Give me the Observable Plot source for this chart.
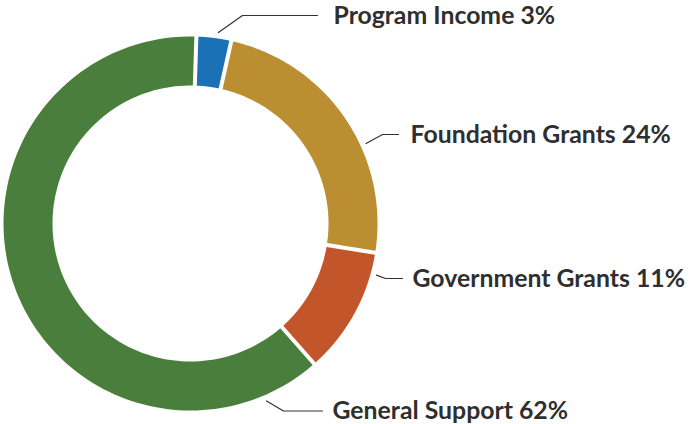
<!DOCTYPE html>
<html>
<head>
<meta charset="utf-8">
<script src="https://cdn.jsdelivr.net/npm/d3@7"></script>
<script src="https://cdn.jsdelivr.net/npm/@observablehq/plot@0.6"></script>
<style>
  html, body { margin: 0; padding: 0; background: #fff; }
  #chart { width: 690px; height: 424px; }
</style>
</head>
<body>
<div id="chart"></div>
<script>
// ---- Data ----
const categories = ["Program Income", "Foundation Grants", "Government Grants", "General Support"];
const shares = [3, 24, 11, 62];
const colors = ["#1a71b6", "#bb8f31", "#c2562a", "#4a7e3c"];

// ---- Layout (chart space: ring centre at 0,0, y downwards) ----
const outerR = 187, innerR = 138, padPx = 2;
const startDeg = 1.8;
// leader lines: anchor angle on the ring, elbow, end of the horizontal part, gap to text
const leaderLayout = [
  {angle: 8.3,   elbow: [52, -208],   endX: 127, gap: 16},
  {angle: 65.5,  elbow: [192, -89],   endX: 208, gap: 12},
  {angle: 105.5, elbow: [195, 55],    endX: 212, gap: 10},
  {angle: 156.8, elbow: [93, 187.5],  endX: 132, gap: 10}
];
const leaderR = 193;

// ---- Geometry from the data ----
const rad = Math.PI / 180;
const pie = d3.pie().sort(null).startAngle(startDeg * rad).endAngle(startDeg * rad + 2 * Math.PI);
const arcs = pie(shares);
const ringPts = [];
arcs.forEach((a, i) => {
  const oPad = Math.asin(padPx / outerR), iPad = Math.asin(padPx / innerR);
  const n = 120;
  const o0 = a.startAngle + oPad, o1 = a.endAngle - oPad;
  const i0 = a.startAngle + iPad, i1 = a.endAngle - iPad;
  for (let k = 0; k <= n; k++) {
    const t = o0 + (o1 - o0) * k / n;
    ringPts.push({category: categories[i], x: outerR * Math.sin(t), y: -outerR * Math.cos(t)});
  }
  for (let k = n; k >= 0; k--) {
    const t = i0 + (i1 - i0) * k / n;
    ringPts.push({category: categories[i], x: innerR * Math.sin(t), y: -innerR * Math.cos(t)});
  }
});

const leaderPts = [];
const labels = [];
leaderLayout.forEach((L, i) => {
  const t = L.angle * rad;
  leaderPts.push({category: categories[i], x: leaderR * Math.sin(t), y: -leaderR * Math.cos(t)});
  leaderPts.push({category: categories[i], x: L.elbow[0], y: L.elbow[1]});
  leaderPts.push({category: categories[i], x: L.endX, y: L.elbow[1]});
  labels.push({text: `${categories[i]} ${shares[i]}%`, x: L.endX + L.gap, y: L.elbow[1]});
});

const chart = Plot.plot({
  width: 690,
  height: 424,
  margin: 0,
  x: {domain: [-190, 500], axis: null},
  y: {domain: [-223, 201], reverse: true, axis: null},
  color: {domain: categories, range: colors},
  style: {background: "#fff"},
  marks: [
    Plot.line(ringPts, {x: "x", y: "y", z: "category", fill: "category", stroke: null, curve: "linear-closed"}),
    Plot.line(leaderPts, {x: "x", y: "y", z: "category", stroke: "#333", strokeWidth: 1.2}),
    Plot.text(labels, {x: "x", y: "y", text: "text", textAnchor: "start", lineAnchor: "middle",
      fontSize: 24.8, fontWeight: 700, fill: "#2f2f2f", fontFamily: "Lato", dy: 0.5})
  ]
});
document.getElementById("chart").appendChild(chart);
</script>
</body>
</html>
